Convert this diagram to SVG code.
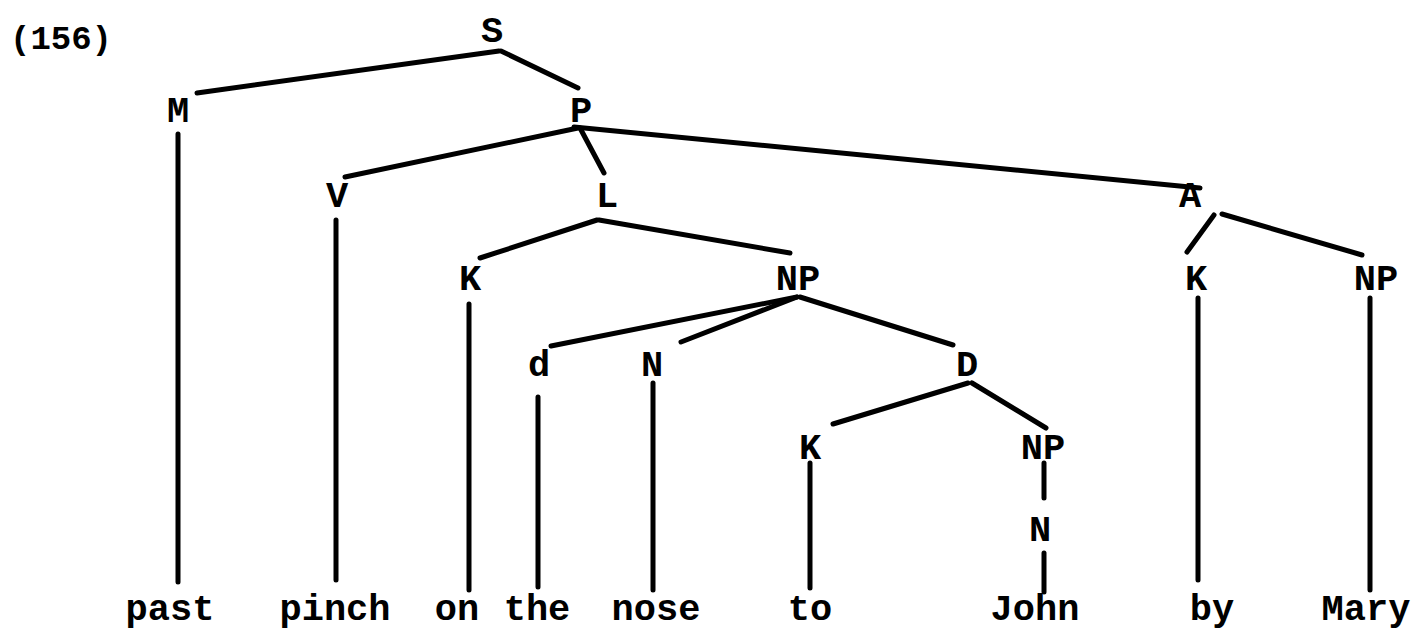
<svg xmlns="http://www.w3.org/2000/svg" width="1414" height="633" viewBox="0 0 1414 633">
<style>
text{font-family:"Liberation Mono","Courier New",monospace;font-weight:bold;font-size:37px;fill:#000;text-anchor:middle}
.c line{stroke:#000;stroke-width:5;stroke-linecap:round}
.lbl{text-anchor:start;font-size:34px}
</style>
<rect width="1414" height="633" fill="#fff"/>
<text class="lbl" x="10" y="49">(156)</text>
<g class="c" id="connectors">
<line x1="499" y1="51" x2="197" y2="93"/>
<line x1="501" y1="51" x2="578" y2="88"/>
<line x1="178" y1="134" x2="178" y2="582"/>
<line x1="578" y1="128" x2="345" y2="177"/>
<line x1="580" y1="128" x2="604" y2="173"/>
<line x1="574" y1="127" x2="1200" y2="188"/>
<line x1="336" y1="220" x2="336" y2="580"/>
<line x1="597" y1="220" x2="480" y2="258"/>
<line x1="599" y1="220" x2="790" y2="253"/>
<line x1="1214" y1="215" x2="1187" y2="252"/>
<line x1="1222" y1="214" x2="1362" y2="255"/>
<line x1="469" y1="304" x2="469" y2="590"/>
<line x1="1198" y1="298" x2="1198" y2="580"/>
<line x1="1370" y1="298" x2="1370" y2="590"/>
<line x1="797" y1="297" x2="551" y2="346"/>
<line x1="797" y1="297" x2="681" y2="342"/>
<line x1="800" y1="297" x2="953" y2="345"/>
<line x1="538" y1="397" x2="538" y2="587"/>
<line x1="653" y1="383" x2="653" y2="590"/>
<line x1="968" y1="383" x2="833" y2="424"/>
<line x1="972" y1="383" x2="1046" y2="428"/>
<line x1="810" y1="463" x2="810" y2="588"/>
<line x1="1044" y1="463" x2="1044" y2="498"/>
<line x1="1044" y1="553" x2="1044" y2="592"/>
</g>
<g id="n-S"><text x="492" y="42">S</text></g>
<g id="n-M"><text x="178" y="122">M</text></g>
<g id="n-P"><text x="581" y="122">P</text></g>
<g id="n-V"><text x="337" y="207">V</text></g>
<g id="n-L"><text x="607" y="207">L</text></g>
<g id="n-A"><text x="1190" y="207">A</text></g>
<g id="n-K1"><text x="470" y="290">K</text></g>
<g id="n-NP1"><text x="798" y="290">NP</text></g>
<g id="n-K2"><text x="1196" y="290">K</text></g>
<g id="n-NP2"><text x="1376" y="290">NP</text></g>
<g id="n-d"><text x="539" y="376">d</text></g>
<g id="n-N1"><text x="652" y="376">N</text></g>
<g id="n-D"><text x="967" y="376">D</text></g>
<g id="n-K3"><text x="810" y="459">K</text></g>
<g id="n-NP3"><text x="1043" y="459">NP</text></g>
<g id="n-N2"><text x="1040" y="541">N</text></g>
<g id="w-past"><text x="170" y="620">past</text></g>
<g id="w-pinch"><text x="335" y="620">pinch</text></g>
<g id="w-on"><text x="457" y="620">on</text></g>
<g id="w-the"><text x="537" y="620">the</text></g>
<g id="w-nose"><text x="656" y="620">nose</text></g>
<g id="w-to"><text x="810" y="620">to</text></g>
<g id="w-John"><text x="1035" y="620">John</text></g>
<g id="w-by"><text x="1212" y="620">by</text></g>
<g id="w-Mary"><text x="1366" y="620">Mary</text></g>
</svg>
